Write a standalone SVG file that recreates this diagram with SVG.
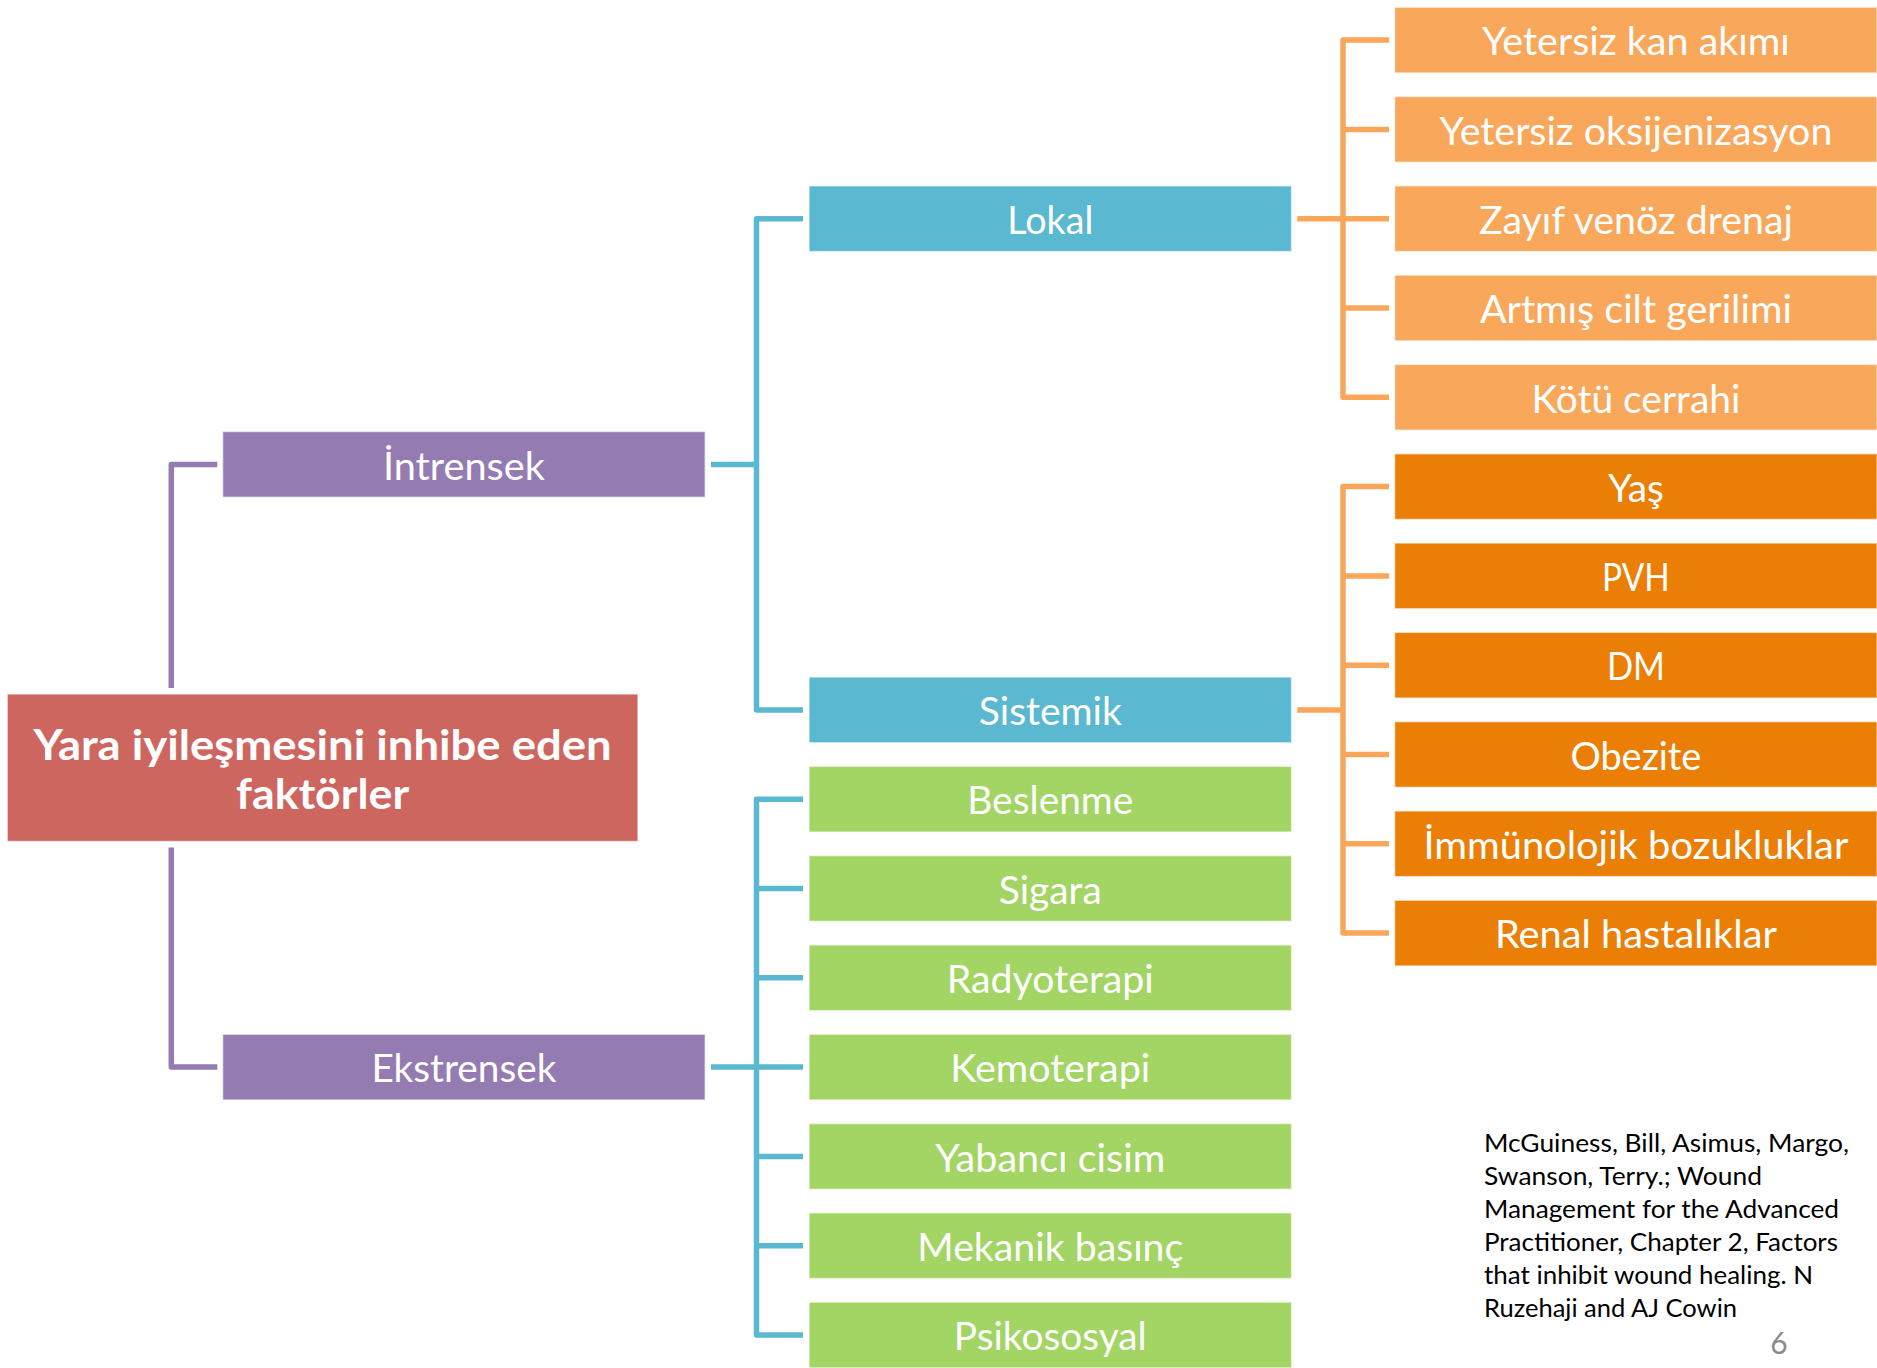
<svg xmlns="http://www.w3.org/2000/svg" width="1877" height="1368" viewBox="0 0 1877 1368">
<style>
.box{stroke:#ffffff;stroke-opacity:0.6;stroke-width:1.5}
.purple{fill:#947BB1}
.blue{fill:#5BB8D1}
.green{fill:#A2D563}
.lorange{fill:#F9A75A}
.dorange{fill:#EB7F06}
.red{fill:#CE6660}
.lbl{font-family:Lato,"Open Sans","Liberation Sans",sans-serif;font-size:39px;fill:#ffffff;text-anchor:middle}
.title{font-family:Lato,"Open Sans","Liberation Sans",sans-serif;font-size:42px;font-weight:bold;fill:#ffffff;text-anchor:middle}
.cite{font-family:Lato,"Open Sans","Liberation Sans",sans-serif;font-size:25.5px;fill:#000000}
.pnum{font-family:Lato,"Open Sans","Liberation Sans",sans-serif;font-size:30px;fill:#8B8B8B}
.conn{fill:none;stroke-width:5.5;stroke-linejoin:round;stroke-linecap:butt}
</style>
<rect width="1877" height="1368" fill="#ffffff"/>
<g id="connectors">
<path class="conn" stroke="#947BB1" d="M217.3,464.4 H171.3 V688 M171.3,847.5 V1067.1 H217.3"/>
<path class="conn" stroke="#5BB8D1" d="M711,464.4 H756.5 M803,218.7 H756.5 V709.9 H803"/>
<path class="conn" stroke="#5BB8D1" d="M711,1067.1 H756.5 M803,799.2 H756.5 V1335 H803 M756.5,888.5 H803 M756.5,977.8 H803 M756.5,1067.1 H803 M756.5,1156.4 H803 M756.5,1245.7 H803"/>
<path class="conn" stroke="#F9A65A" d="M1297.3,218.7 H1343 M1389,40.1 H1343 V397.3 H1389 M1343,129.4 H1389 M1343,218.7 H1389 M1343,308 H1389"/>
<path class="conn" stroke="#F9A65A" d="M1297.3,709.9 H1343 M1389,486.6 H1343 V933.1 H1389 M1343,575.9 H1389 M1343,665.2 H1389 M1343,754.5 H1389 M1343,843.8 H1389"/>
</g>
<g id="root"><rect class="box red" x="7.2" y="694" width="630.8" height="147.5"/>
<text class="title" x="322.6" y="760" textLength="578" lengthAdjust="spacingAndGlyphs">Yara iyileşmesini inhibe eden</text>
<text class="title" x="322.6" y="809" textLength="173" lengthAdjust="spacingAndGlyphs">faktörler</text></g>
<g id="intrensek"><rect class="box purple" x="222.6" y="431.5" width="482.6" height="65.8"/><text class="lbl" x="463.9" y="479.6" textLength="162" lengthAdjust="spacingAndGlyphs">İntrensek</text></g>
<g id="ekstrensek"><rect class="box purple" x="222.6" y="1034.2" width="482.6" height="65.8"/><text class="lbl" x="463.9" y="1082.3" textLength="185" lengthAdjust="spacingAndGlyphs">Ekstrensek</text></g>
<g id="lokal"><rect class="box blue" x="809" y="185.8" width="482.6" height="65.8"/><text class="lbl" x="1050.3" y="233.9" textLength="86" lengthAdjust="spacingAndGlyphs">Lokal</text></g>
<g id="sistemik"><rect class="box blue" x="809" y="677" width="482.6" height="65.8"/><text class="lbl" x="1050.3" y="725.1" textLength="143" lengthAdjust="spacingAndGlyphs">Sistemik</text></g>
<g id="beslenme"><rect class="box green" x="809" y="766.3" width="482.6" height="65.8"/><text class="lbl" x="1050.3" y="814.4" textLength="166" lengthAdjust="spacingAndGlyphs">Beslenme</text></g>
<g id="sigara"><rect class="box green" x="809" y="855.6" width="482.6" height="65.8"/><text class="lbl" x="1050.3" y="903.7" textLength="103" lengthAdjust="spacingAndGlyphs">Sigara</text></g>
<g id="radyoterapi"><rect class="box green" x="809" y="944.9" width="482.6" height="65.8"/><text class="lbl" x="1050.3" y="993" textLength="207" lengthAdjust="spacingAndGlyphs">Radyoterapi</text></g>
<g id="kemoterapi"><rect class="box green" x="809" y="1034.2" width="482.6" height="65.8"/><text class="lbl" x="1050.3" y="1082.3" textLength="200" lengthAdjust="spacingAndGlyphs">Kemoterapi</text></g>
<g id="yabanci"><rect class="box green" x="809" y="1123.5" width="482.6" height="65.8"/><text class="lbl" x="1050.3" y="1171.6" textLength="230" lengthAdjust="spacingAndGlyphs">Yabancı cisim</text></g>
<g id="mekanik"><rect class="box green" x="809" y="1212.8" width="482.6" height="65.8"/><text class="lbl" x="1050.3" y="1260.9" textLength="266" lengthAdjust="spacingAndGlyphs">Mekanik basınç</text></g>
<g id="psikososyal"><rect class="box green" x="809" y="1302.1" width="482.6" height="65.8"/><text class="lbl" x="1050.3" y="1350.2" textLength="193" lengthAdjust="spacingAndGlyphs">Psikososyal</text></g>
<g id="l1"><rect class="box lorange" x="1394.6" y="7.2" width="482.6" height="65.8"/><text class="lbl" x="1635.9" y="55.3" textLength="308" lengthAdjust="spacingAndGlyphs">Yetersiz kan akımı</text></g>
<g id="l2"><rect class="box lorange" x="1394.6" y="96.5" width="482.6" height="65.8"/><text class="lbl" x="1635.9" y="144.6" textLength="393" lengthAdjust="spacingAndGlyphs">Yetersiz oksijenizasyon</text></g>
<g id="l3"><rect class="box lorange" x="1394.6" y="185.8" width="482.6" height="65.8"/><text class="lbl" x="1635.9" y="233.9" textLength="314" lengthAdjust="spacingAndGlyphs">Zayıf venöz drenaj</text></g>
<g id="l4"><rect class="box lorange" x="1394.6" y="275.1" width="482.6" height="65.8"/><text class="lbl" x="1635.9" y="323.2" textLength="312" lengthAdjust="spacingAndGlyphs">Artmış cilt gerilimi</text></g>
<g id="l5"><rect class="box lorange" x="1394.6" y="364.4" width="482.6" height="65.8"/><text class="lbl" x="1635.9" y="412.5" textLength="209" lengthAdjust="spacingAndGlyphs">Kötü cerrahi</text></g>
<g id="s1"><rect class="box dorange" x="1394.6" y="453.7" width="482.6" height="65.8"/><text class="lbl" x="1635.9" y="501.8" textLength="56" lengthAdjust="spacingAndGlyphs">Yaş</text></g>
<g id="s2"><rect class="box dorange" x="1394.6" y="543" width="482.6" height="65.8"/><text class="lbl" x="1635.9" y="591.1" textLength="68" lengthAdjust="spacingAndGlyphs">PVH</text></g>
<g id="s3"><rect class="box dorange" x="1394.6" y="632.3" width="482.6" height="65.8"/><text class="lbl" x="1635.9" y="680.4" textLength="58" lengthAdjust="spacingAndGlyphs">DM</text></g>
<g id="s4"><rect class="box dorange" x="1394.6" y="721.6" width="482.6" height="65.8"/><text class="lbl" x="1635.9" y="769.7" textLength="131" lengthAdjust="spacingAndGlyphs">Obezite</text></g>
<g id="s5"><rect class="box dorange" x="1394.6" y="810.9" width="482.6" height="65.8"/><text class="lbl" x="1635.9" y="859" textLength="425" lengthAdjust="spacingAndGlyphs">İmmünolojik bozukluklar</text></g>
<g id="s6"><rect class="box dorange" x="1394.6" y="900.2" width="482.6" height="65.8"/><text class="lbl" x="1635.9" y="948.3" textLength="282" lengthAdjust="spacingAndGlyphs">Renal hastalıklar</text></g>
<g id="citation">
<text class="cite" x="1484" y="1152" textLength="365" lengthAdjust="spacingAndGlyphs">McGuiness, Bill, Asimus, Margo,</text>
<text class="cite" x="1484" y="1185" textLength="278" lengthAdjust="spacingAndGlyphs">Swanson, Terry.; Wound</text>
<text class="cite" x="1484" y="1218" textLength="355" lengthAdjust="spacingAndGlyphs">Management for the Advanced</text>
<text class="cite" x="1484" y="1251" textLength="354" lengthAdjust="spacingAndGlyphs">Practitioner, Chapter 2, Factors</text>
<text class="cite" x="1484" y="1284" textLength="329" lengthAdjust="spacingAndGlyphs">that inhibit wound healing. N</text>
<text class="cite" x="1484" y="1317" textLength="253" lengthAdjust="spacingAndGlyphs">Ruzehaji and AJ Cowin</text>
</g>
<text class="pnum" x="1779" y="1354" text-anchor="middle">6</text>
</svg>
